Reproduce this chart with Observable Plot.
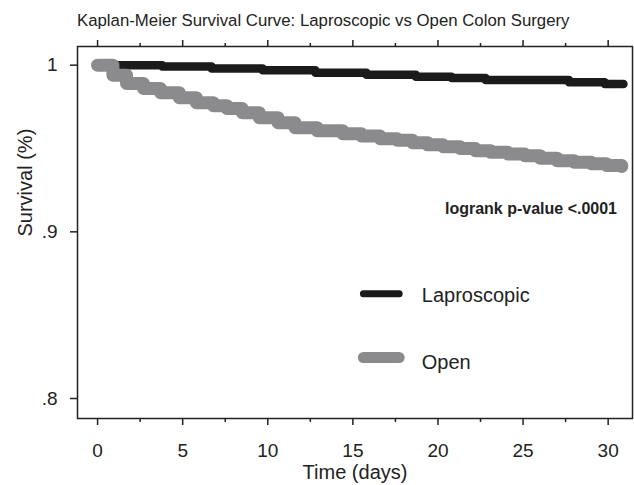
<!DOCTYPE html>
<html>
<head>
<meta charset="utf-8">
<script src="https://cdn.jsdelivr.net/npm/d3@7"></script>
<script src="https://cdn.jsdelivr.net/npm/@observablehq/plot@0.6"></script>
<style>
  html, body { margin: 0; padding: 0; background: #fff; }
  body { width: 634px; height: 485px; overflow: hidden; font-family: "Liberation Sans", Arial, sans-serif; }
  #title { height: 38px; box-sizing: border-box; padding-top: 13px; padding-left: 77px; font-size: 16.8px; line-height: 16px; color: #222; white-space: nowrap; }
</style>
</head>
<body>
<div id="title">Kaplan-Meier Survival Curve: Laproscopic vs Open Colon Surgery</div>
<div id="chart"></div>
<script>
// ---- data ----
const groups = ["Laproscopic", "Open"];
const lapTime = [0, 3.8, 6.7, 9.7, 12.8, 15.8, 18.7, 20.8, 22.8, 27.7, 29.8, 30.9];
const lapSurv = [1.0, 0.9992, 0.9980, 0.9970, 0.9955, 0.9943, 0.9931, 0.9923, 0.9911, 0.9897, 0.9887, 0.9887];
const openTime = [0, 0.9, 1.7, 2.7, 3.7, 4.8, 5.8, 6.8, 7.6, 8.5, 9.5, 10.6, 11.6, 12.9, 14.4, 15.5, 16.6, 17.6, 18.5, 19.4, 20.3, 21.3, 22.2, 23.1, 24.1, 25.1, 26.0, 27.0, 28.0, 29.0, 29.9, 30.8];
const openSurv = [1.0, 0.994, 0.989, 0.986, 0.9835, 0.9805, 0.9775, 0.9757, 0.974, 0.9715, 0.9685, 0.9655, 0.9625, 0.9607, 0.9589, 0.9575, 0.9559, 0.955, 0.9535, 0.9522, 0.9511, 0.950, 0.9487, 0.9477, 0.9467, 0.9457, 0.9442, 0.9427, 0.9418, 0.9409, 0.9398, 0.9392];
const xMajorTicks = [0, 5, 10, 15, 20, 25, 30];
const xMinorTicks = [2.5, 7.5, 12.5, 17.5, 22.5, 27.5];
const yTicks = [0.8, 0.9, 1.0];
const yTickLabels = [".8", ".9", "1"];
const pValueText = "logrank p-value <.0001";

// ---- build tables ----
const lap = lapTime.map((t, i) => ({t, s: lapSurv[i], g: groups[0]}));
const open = openTime.map((t, i) => ({t, s: openSurv[i], g: groups[1]}));
const colors = {"Laproscopic": "#1b1b1b", "Open": "#8b8b8d"};
const widths = {"Laproscopic": 8.5, "Open": 13};
const legendRows = [
  {g: groups[0], y: 0.8629, w: 7},
  {g: groups[1], y: 0.8246, w: 11}
];
const legendLines = legendRows.flatMap(r => [{t: 15.62, s: r.y, g: r.g, w: r.w}, {t: 17.72, s: r.y, g: r.g, w: r.w}]);
const legendText = [{t: 19.05, s: 0.8615, label: groups[0]}, {t: 19.05, s: 0.8215, label: groups[1]}];

const font = "Liberation Sans, Arial, sans-serif";
const chart = Plot.plot({
  width: 634,
  height: 447,
  marginTop: 8,
  marginBottom: 67,
  marginLeft: 77,
  marginRight: 2,
  style: {fontFamily: font, color: "#222", background: "#fff"},
  x: {domain: [-1.18, 31.43]},
  y: {domain: [0.788, 1.0112]},
  marks: [
    Plot.axisX({anchor: "bottom", ticks: xMajorTicks, tickSize: 7, tickPadding: 18, fontSize: 19, label: null, stroke: "#222", strokeWidth: 1.5}),
    Plot.axisX({anchor: "bottom", ticks: xMinorTicks, tickSize: 4, text: null, label: null, stroke: "#222", strokeWidth: 1.5}),
    Plot.axisX({anchor: "top", ticks: xMajorTicks, tickSize: 7, text: null, label: null, stroke: "#222", strokeWidth: 1.5}),
    Plot.axisX({anchor: "top", ticks: xMinorTicks, tickSize: 4, text: null, label: null, stroke: "#222", strokeWidth: 1.5}),
    Plot.axisY({anchor: "left", ticks: yTicks, tickFormat: (d) => yTickLabels[yTicks.indexOf(d)], tickSize: 7, tickPadding: 13, fontSize: 19, label: null, stroke: "#222", strokeWidth: 1.5}),
    Plot.frame({stroke: "#222", strokeWidth: 1.5}),
    Plot.line(lap, {x: "t", y: "s", curve: "step-after", stroke: colors["Laproscopic"], strokeWidth: widths["Laproscopic"], strokeLinecap: "round", strokeLinejoin: "round"}),
    Plot.line(open, {x: "t", y: "s", curve: "step-after", stroke: colors["Open"], strokeWidth: widths["Open"], strokeLinecap: "round", strokeLinejoin: "round"}),
    Plot.line(legendLines, {x: "t", y: "s", z: "g", stroke: (d) => colors[d.g], strokeWidth: "w", strokeLinecap: "round"}),
    Plot.text(legendText, {x: "t", y: "s", text: "label", textAnchor: "start", fontSize: 20, fill: "#222"}),
    Plot.text([pValueText], {x: 30.52, y: 0.914, text: (d) => d, textAnchor: "end", fontSize: 16, fontWeight: "bold", fill: "#222"}),
    Plot.text(["Time (days)"], {frameAnchor: "bottom", dy: 54, text: (d) => d, fontSize: 20, fill: "#222", lineAnchor: "middle"}),
    Plot.text(["Survival (%)"], {frameAnchor: "left", dx: -52, dy: 4, rotate: -90, text: (d) => d, fontSize: 20, fill: "#222", lineAnchor: "middle"})
  ]
});
document.getElementById("chart").appendChild(chart);
</script>
</body>
</html>
